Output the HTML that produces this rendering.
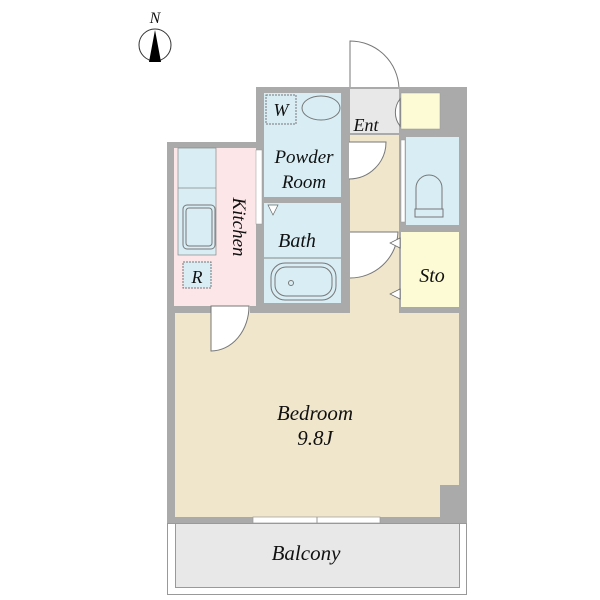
<!DOCTYPE html>
<html><head><style>body{margin:0;background:#fff}svg{display:block}text{font-family:"Liberation Serif",serif;font-style:italic;fill:#111}</style></head>
<body>
<svg width="600" height="600" viewBox="0 0 600 600" xmlns="http://www.w3.org/2000/svg">
<text x="155" y="23" font-size="16" text-anchor="middle">N</text>
<circle cx="155" cy="45" r="16" fill="#fff" stroke="#333" stroke-width="1"/>
<polygon points="155,30 149,62 161,62" fill="#000"/>
<path d="M350,88 L350,41 A49,49 0 0 1 399,88" fill="#fff" stroke="#777" stroke-width="1"/>
<rect x="256" y="87" width="211" height="60" fill="#aaa"/>
<rect x="167" y="142" width="300" height="381" fill="#aaa"/>
<rect x="350" y="89" width="49" height="44" fill="#e8e8e8"/>
<rect x="401" y="93" width="39" height="36" fill="#fdfbd6" stroke="#999" stroke-width="0.5"/>
<rect x="174" y="148" width="82" height="158" fill="#fde6e8"/>
<rect x="178" y="148" width="38" height="107" fill="#d8eef4" stroke="#888" stroke-width="0.7"/>
<line x1="178" y1="188" x2="216" y2="188" stroke="#888" stroke-width="0.7"/>
<rect x="183" y="205" width="32" height="44" rx="4" fill="none" stroke="#777"/>
<rect x="186" y="208" width="26" height="38" rx="3" fill="none" stroke="#777"/>
<rect x="183" y="262" width="28" height="26" fill="#d8eef4" stroke="#777" stroke-dasharray="2,1"/>
<text x="197" y="283" font-size="18" text-anchor="middle">R</text>
<text transform="translate(233,227) rotate(90)" font-size="19" text-anchor="middle">Kitchen</text>
<rect x="256" y="150" width="6" height="74" fill="#fff" stroke="#999" stroke-width="0.5"/>
<rect x="264" y="93" width="77" height="104" fill="#d8eef4"/>
<rect x="266" y="95" width="30" height="29" fill="none" stroke="#777" stroke-dasharray="2,1"/>
<text x="281" y="116" font-size="18" text-anchor="middle">W</text>
<ellipse cx="321" cy="108" rx="19" ry="12" fill="none" stroke="#777"/>
<text x="304" y="163" font-size="19" text-anchor="middle">Powder</text>
<text x="304" y="188" font-size="19" text-anchor="middle">Room</text>
<rect x="264" y="203" width="77" height="100" fill="#d8eef4"/>
<line x1="264" y1="258" x2="341" y2="258" stroke="#888"/>
<rect x="271" y="263" width="65" height="37" rx="14" fill="none" stroke="#777"/>
<rect x="275" y="267" width="57" height="29" rx="11" fill="none" stroke="#777"/>
<circle cx="291" cy="283" r="2.5" fill="none" stroke="#777"/>
<polygon points="268,205 278,205 273,215" fill="#fff" stroke="#666" stroke-width="0.7"/>
<text x="297" y="247" font-size="20" text-anchor="middle">Bath</text>
<rect x="350" y="135" width="49" height="178" fill="#f0e6cc"/>
<text x="366" y="131" font-size="18" text-anchor="middle">Ent</text>
<path d="M349,142 L386,142 A37,37 0 0 1 349,179" fill="#fff" stroke="#777"/>
<path d="M350,232 L398,232 A48,48 0 0 1 350,278" fill="#fff" stroke="#777"/>
<path d="M400,99 A22,22 0 0 0 400,126 Z" fill="#fff" stroke="#777"/>
<rect x="406" y="137" width="53" height="88" fill="#d8eef4"/>
<path d="M416,215 L416,188 A13,13 0 0 1 442,188 L442,215 Z" fill="none" stroke="#777"/>
<rect x="415" y="209" width="28" height="8" fill="#d8eef4" stroke="#777"/>
<rect x="401" y="140" width="4" height="82" fill="#fff" stroke="#999" stroke-width="0.5"/>
<rect x="401" y="232" width="58" height="75" fill="#fdfbd6"/>
<polygon points="400,238 400,248 390,243" fill="#fff" stroke="#666" stroke-width="0.7"/>
<polygon points="400,289 400,299 390,294" fill="#fff" stroke="#666" stroke-width="0.7"/>
<text x="432" y="282" font-size="20" text-anchor="middle">Sto</text>
<rect x="175" y="313" width="284" height="204" fill="#f0e6cc"/>
<rect x="350" y="300" width="49" height="14" fill="#f0e6cc"/>
<rect x="440" y="485" width="20" height="33" fill="#aaa"/>
<rect x="211" y="306" width="39" height="8" fill="#f0e6cc"/>
<path d="M211,306 L249,306 A38,45 0 0 1 211,351 Z" fill="#fff" stroke="#777"/>
<text x="315" y="420" font-size="21" text-anchor="middle">Bedroom</text>
<text x="315" y="445" font-size="21" text-anchor="middle">9.8J</text>
<rect x="253" y="517" width="127" height="6" fill="#fff" stroke="#999" stroke-width="0.7"/>
<line x1="317" y1="517" x2="317" y2="523" stroke="#999"/>
<rect x="167.5" y="523.5" width="299" height="71" fill="#fff" stroke="#999"/>
<rect x="175.5" y="523.5" width="284" height="64" fill="#e8e8e8" stroke="#999"/>
<text x="306" y="560" font-size="21" text-anchor="middle">Balcony</text>
</svg>
</body></html>
